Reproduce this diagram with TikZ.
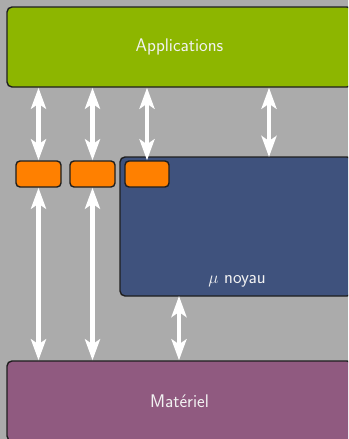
\documentclass[tikz,border=0pt]{standalone}
\usepackage{fontspec}
\usetikzlibrary{arrows.meta}
\definecolor{bg}{HTML}{ABABAB}
\definecolor{appgreen}{HTML}{8DB600}
\definecolor{kblue}{HTML}{3F527D}
\definecolor{hwpurple}{HTML}{905A80}
\definecolor{korange}{HTML}{FF8000}
\definecolor{edge}{HTML}{1E1E1E}
\definecolor{txt}{HTML}{F2F2F2}
\begin{document}
\begin{tikzpicture}[x=1pt,y=-1pt,
  box/.style={draw=edge,line width=1.4pt,rounded corners=5pt,inner sep=0pt},
  port/.style={draw=edge,line width=1.4pt,rounded corners=4pt,fill=korange,inner sep=0pt,minimum height=26pt},
  lbl/.style={text=txt,font=\fontsize{18.3}{21}\selectfont\sffamily},
  link/.style={white,line width=4.5pt,{Stealth[length=21pt,width=15pt,inset=5pt]}-{Stealth[length=21pt,width=15pt,inset=5pt]}}]
\useasboundingbox (0,0) rectangle (348,439);
\clip (0,0) rectangle (348,439);
\fill[bg] (0,0) rectangle (348,439);
% boxes
\node[box,fill=appgreen,minimum width=345pt,minimum height=80pt] (app) at (179.5,47) {};
\node[lbl] (applbl) at (app.center) {Applications};
\node[box,fill=kblue,minimum width=232pt,minimum height=139pt] (kern) at (236,226.5) {};
\node[lbl,anchor=base] (kernlbl) at (237,283) {$\mu$ noyau};
\node[box,fill=hwpurple,minimum width=345pt,minimum height=80pt] (hw) at (179.5,401) {};
\node[lbl] (hwlbl) at (hw.center) {Matériel};
\node[port,minimum width=45pt] (p1) at (38.5,174) {};
\node[port,minimum width=45pt] (p2) at (92.5,174) {};
\node[port,minimum width=44pt] (p3) at (147,174) {};
\coordinate (k4) at (269,157);
\coordinate (k5) at (179,296);
% connectors
\draw[link] (p1.north |- app.south) -- (p1.north);
\draw[link] (p2.north |- app.south) -- (p2.north);
\draw[link] (p3.north |- app.south) -- (p3.north);
\draw[link] (k4 |- app.south) -- (k4);
\draw[link] (p1.south) -- (p1.south |- hw.north);
\draw[link] (p2.south) -- (p2.south |- hw.north);
\draw[link] (k5) -- (k5 |- hw.north);
\end{tikzpicture}
\end{document}
